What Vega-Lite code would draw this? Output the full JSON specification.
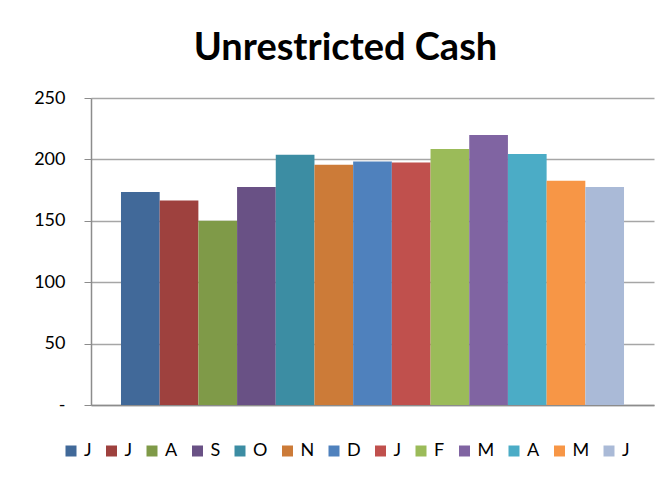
{
  "$schema": "https://vega.github.io/schema/vega-lite/v6.json",
  "autosize": "none",
  "width": 563,
  "height": 307,
  "padding": {"left": 91, "top": 98, "right": 16, "bottom": 80},
  "background": "white",
  "title": {
    "text": "Unrestricted Cash",
    "font": "Lato",
    "fontSize": 38,
    "fontWeight": "bold",
    "color": "#000000",
    "anchor": "middle",
    "dx": -27,
    "offset": 21
  },
  "data": {
    "values": [
      {"month": "Jun", "value": 173.5},
      {"month": "Jul", "value": 166.5},
      {"month": "Aug", "value": 150},
      {"month": "Sep", "value": 177.5},
      {"month": "Oct", "value": 203.7},
      {"month": "Nov", "value": 195.7},
      {"month": "Dec", "value": 198.2},
      {"month": "Jan", "value": 197.4},
      {"month": "Feb", "value": 208.5},
      {"month": "Mar", "value": 219.9},
      {"month": "Apr", "value": 204.4},
      {"month": "May", "value": 182.7},
      {"month": "Jun2", "value": 177.5}
    ]
  },
  "mark": {"type": "bar"},
  "encoding": {
    "x": {
      "field": "month",
      "type": "nominal",
      "sort": null,
      "scale": {"paddingInner": 0, "paddingOuter": 0.775},
      "axis": {"title": null, "labels": false, "ticks": false, "domain": true, "domainColor": "#8C8C8C", "domainWidth": 1.5}
    },
    "y": {
      "field": "value",
      "type": "quantitative",
      "scale": {"domain": [0, 250], "nice": false},
      "axis": {
        "title": null,
        "values": [0, 50, 100, 150, 200, 250],
        "labelExpr": "datum.value == 0 ? '-' : datum.label",
        "labelFont": "Lato",
        "labelFontSize": 18,
        "labelColor": "#000000",
        "labelPadding": 19,
        "tickSize": 7,
        "tickColor": "#8C8C8C",
        "domainColor": "#8C8C8C",
        "domainWidth": 1.5,
        "gridColor": "#A6A6A6",
        "gridWidth": 1.5,
        "grid": true
      }
    },
    "color": {
      "field": "month",
      "type": "nominal",
      "sort": null,
      "scale": {
        "domain": ["Jun", "Jul", "Aug", "Sep", "Oct", "Nov", "Dec", "Jan", "Feb", "Mar", "Apr", "May", "Jun2"],
        "range": ["#416999", "#9E413E", "#7F9A48", "#695185", "#3C8DA3", "#CC7B38", "#4F81BD", "#C0504D", "#9BBB59", "#8064A2", "#4BACC6", "#F79646", "#AABAD7"]
      },
      "legend": {
        "title": null,
        "orient": "none",
        "direction": "horizontal",
        "columns": 13,
        "legendX": -29,
        "legendY": 344,
        "symbolType": "square",
        "symbolSize": 121,
        "symbolStrokeWidth": 0,
        "labelFont": "Lato",
        "labelFontSize": 18,
        "labelColor": "#000000",
        "labelOffset": 4,
        "columnPadding": 10.5,
        "labelExpr": "substring(datum.label, 0, 1)"
      }
    }
  },
  "config": {
    "view": {"stroke": null}
  }
}
